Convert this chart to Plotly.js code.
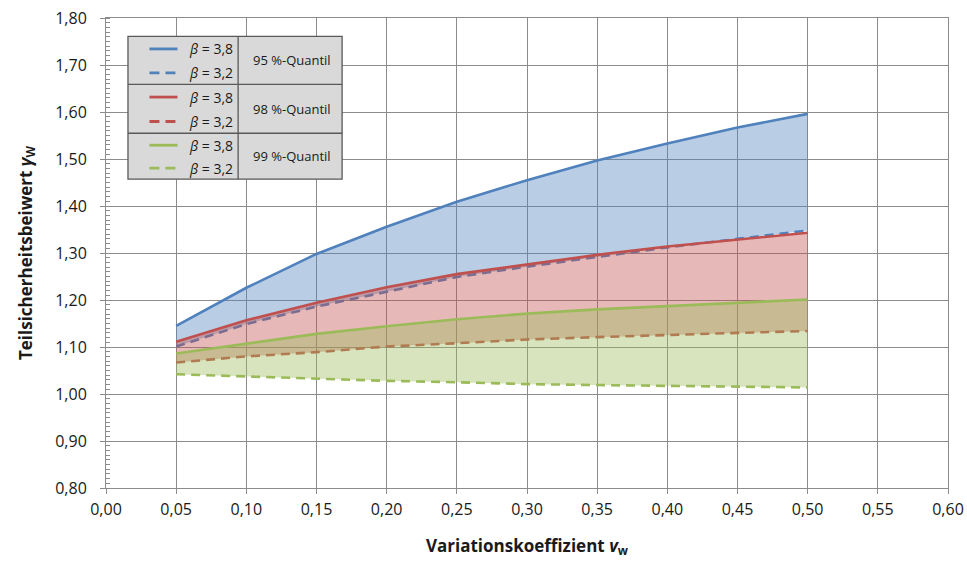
<!DOCTYPE html>
<html>
<head>
<meta charset="utf-8">
<script src="https://cdn.plot.ly/plotly-3.0.1.min.js"></script>
<style>
  html, body { margin: 0; padding: 0; background: #fff; }
  #chart { width: 967px; height: 572px; }
</style>
</head>
<body>
<div id="chart"></div>
<script>
// Coefficient of variation v_w
const vw = [0.05, 0.10, 0.15, 0.20, 0.25, 0.30, 0.35, 0.40, 0.45, 0.50];

// Partial safety factor gamma_w per quantile and reliability index beta
const q95_b38 = [1.145, 1.226, 1.298, 1.356, 1.409, 1.455, 1.497, 1.533, 1.567, 1.596];
const q95_b32 = [1.101, 1.149, 1.186, 1.218, 1.249, 1.271, 1.292, 1.312, 1.330, 1.348];
const q98_b38 = [1.111, 1.157, 1.194, 1.227, 1.255, 1.276, 1.296, 1.314, 1.329, 1.343];
const q98_b32 = [1.067, 1.080, 1.089, 1.101, 1.108, 1.116, 1.121, 1.126, 1.130, 1.134];
const q99_b38 = [1.086, 1.107, 1.128, 1.144, 1.159, 1.171, 1.180, 1.187, 1.194, 1.201];
const q99_b32 = [1.042, 1.037, 1.032, 1.028, 1.025, 1.021, 1.019, 1.017, 1.016, 1.014];

const quantileLabels = ['95 %-Quantil', '98 %-Quantil', '99 %-Quantil'];
const betaLabels = ['<i>β</i> = 3,8', '<i>β</i> = 3,2'];

const FONT = 'Open Sans, Noto Sans, sans-serif';
const groups = [
  { hi: q95_b38, lo: q95_b32, color: '#4F81BD', fill: 'rgba(79,129,189,0.40)' },
  { hi: q98_b38, lo: q98_b32, color: '#C0504D', fill: 'rgba(192,80,77,0.40)' },
  { hi: q99_b38, lo: q99_b32, color: '#9BBB59', fill: 'rgba(155,187,89,0.40)' }
];
const DASH = '9px,6px';

const traces = [];
groups.forEach((g, i) => {
  traces.push({
    x: vw, y: g.lo, type: 'scatter', mode: 'lines',
    name: quantileLabels[i] + ' β=3,2',
    line: { color: g.color, width: 2.6, dash: DASH },
    hoverinfo: 'x+y', showlegend: false
  });
  traces.push({
    x: vw, y: g.hi, type: 'scatter', mode: 'lines',
    name: quantileLabels[i] + ' β=3,8',
    line: { color: g.color, width: 2.6 },
    fill: 'tonexty', fillcolor: g.fill,
    hoverinfo: 'x+y', showlegend: false
  });
});

// Framed key table in the upper left corner (paper coordinates)
const box = { x0: 0.0261, xm: 0.1569, x1: 0.2804, rows: [0.9607, 0.8588, 0.7548, 0.6571] };
const sampleX = [0.0516, 0.0849];
const textX = 0.0967;
const BORDER = '#595959';
const shapes = [
  { type: 'rect', xref: 'paper', yref: 'paper', x0: box.x0, x1: box.x1,
    y0: box.rows[3], y1: box.rows[0], fillcolor: '#D9D9D9',
    line: { color: BORDER, width: 1.3 }, layer: 'above' }
];
const annotations = [];
for (let r = 0; r < 3; r++) {
  const top = box.rows[r], bot = box.rows[r + 1];
  if (r > 0) {
    shapes.push({ type: 'line', xref: 'paper', yref: 'paper', x0: box.x0, x1: box.x1,
      y0: top, y1: top, line: { color: BORDER, width: 1.3 }, layer: 'above' });
  }
  const h = top - bot;
  const ySolid = top - h * 0.26, yDash = top - h * 0.76;
  shapes.push({ type: 'line', xref: 'paper', yref: 'paper', x0: sampleX[0], x1: sampleX[1],
    y0: ySolid, y1: ySolid, line: { color: groups[r].color, width: 2.8 }, layer: 'above' });
  shapes.push({ type: 'line', xref: 'paper', yref: 'paper', x0: sampleX[0], x1: sampleX[1],
    y0: yDash, y1: yDash, line: { color: groups[r].color, width: 2.8, dash: '10px,6px' }, layer: 'above' });
  annotations.push({ xref: 'paper', yref: 'paper', x: textX, y: ySolid, xanchor: 'left', yanchor: 'middle',
    text: betaLabels[0], showarrow: false, font: { family: FONT, size: 14, color: '#1a1a1a' } });
  annotations.push({ xref: 'paper', yref: 'paper', x: textX, y: yDash, xanchor: 'left', yanchor: 'middle',
    text: betaLabels[1], showarrow: false, font: { family: FONT, size: 14, color: '#1a1a1a' } });
  annotations.push({ xref: 'paper', yref: 'paper', x: (box.xm + box.x1) / 2 + 0.002, y: (top + bot) / 2,
    xanchor: 'center', yanchor: 'middle', text: quantileLabels[r], showarrow: false,
    font: { family: FONT, size: 13, color: '#1a1a1a' } });
}
shapes.push({ type: 'line', xref: 'paper', yref: 'paper', x0: box.xm, x1: box.xm,
  y0: box.rows[3], y1: box.rows[0], line: { color: BORDER, width: 1.3 }, layer: 'above' });

const GRID = '#8C8C8C';
const layout = {
  width: 967, height: 572,
  margin: { l: 105.5, r: 19, t: 17.5, b: 83.5 },
  paper_bgcolor: '#ffffff', plot_bgcolor: '#ffffff',
  separators: ', ',
  showlegend: false,
  font: { family: FONT, color: '#1a1a1a' },
  xaxis: {
    range: [0, 0.6], dtick: 0.05, tick0: 0, tickformat: '.2f',
    showgrid: true, gridcolor: GRID, gridwidth: 1,
    showline: true, linecolor: GRID, linewidth: 1, mirror: true,
    ticks: 'outside', ticklen: 5, tickcolor: GRID,
    tickfont: { family: FONT, size: 16, color: '#1a1a1a' },
    ticklabelstandoff: 2,
    zeroline: false,
    title: { text: '<b>Variationskoeffizient <i>v</i><sub>w</sub></b>',
      font: { family: FONT, size: 17, color: '#1a1a1a' }, standoff: 20 }
  },
  yaxis: {
    range: [0.8, 1.8], dtick: 0.1, tick0: 0.8, tickformat: '.2f',
    showgrid: true, gridcolor: GRID, gridwidth: 1,
    showline: true, linecolor: GRID, linewidth: 1, mirror: true,
    ticks: 'outside', ticklen: 5, tickcolor: GRID,
    minor: { dtick: 0.01, ticks: 'inside', ticklen: 4, tickcolor: GRID, showgrid: false },
    tickfont: { family: FONT, size: 16, color: '#1a1a1a' },
    ticklabelstandoff: 10,
    zeroline: false,
    title: { text: '<b>Teilsicherheitsbeiwert <i>γ</i><sub>W</sub></b>',
      font: { family: FONT, size: 17, color: '#1a1a1a' }, standoff: 18 }
  },
  shapes: shapes,
  annotations: annotations
};

Plotly.newPlot('chart', traces, layout, { displayModeBar: false, staticPlot: true });
</script>
</body>
</html>
